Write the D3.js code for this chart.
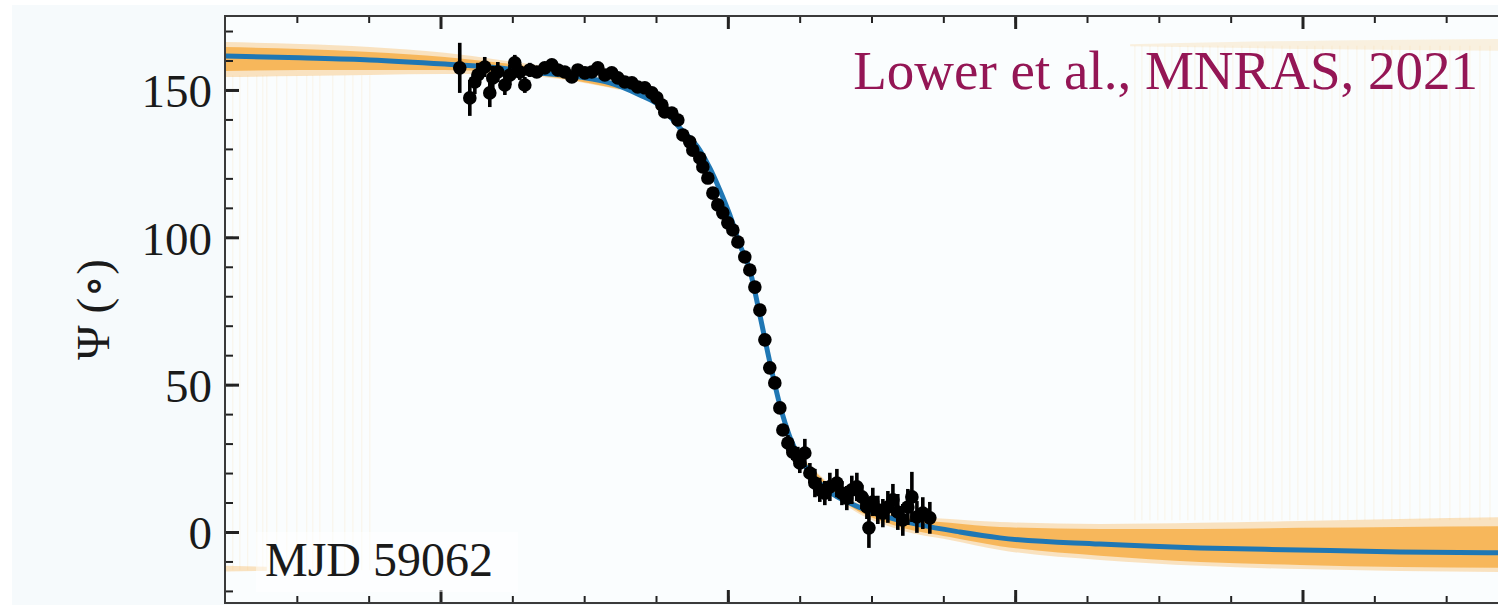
<!DOCTYPE html>
<html>
<head>
<meta charset="utf-8">
<script src="https://cdn.jsdelivr.net/npm/d3@7"></script>
<style>
  html, body { margin: 0; padding: 0; background: #ffffff; }
  svg { display: block; }
</style>
</head>
<body>
<div id="chart"></div>
<script>
// measured position angle (deg) vs pulse phase (deg)
const pointPhase = [-18.66, -17.96, -17.61, -17.40, -16.92, -16.57, -16.36, -16.01, -15.52, -15.17,
    -14.83, -14.48, -14.13, -13.78, -13.30, -12.74, -12.25, -11.83, -11.35, -10.86,
    -10.44, -9.95, -9.47, -9.05, -8.56, -8.08, -7.66, -7.17, -6.68, -6.27,
    -5.78, -5.29, -4.94, -4.59, -4.39, -3.90, -3.48, -3.13, -2.65, -2.44,
    -1.95, -1.74, -1.39, -1.04, -0.70, -0.35, 0.00, 0.35, 0.70, 1.18,
    1.53, 1.88, 2.23, 2.58, 2.92, 3.27, 3.62, 3.83, 4.18, 4.52,
    4.87, 5.01, 5.36, 5.71, 6.06, 6.40, 6.75, 7.10, 7.59, 7.94,
    8.28, 8.63, 8.98, 9.33, 9.68, 9.82, 10.09, 10.44, 10.79, 11.14,
    11.49, 11.83, 12.18, 12.53, 12.81, 13.16, 13.57, 14.06];
const pointPsi = [157.5, 147.3, 152.7, 155.1, 157.8, 149.0, 154.1, 156.1, 151.7, 155.1,
    159.2, 156.1, 151.7, 156.8, 156.1, 157.5, 158.5, 156.8, 156.1, 154.4,
    156.8, 155.8, 156.1, 157.5, 155.1, 155.8, 154.1, 152.7, 152.4, 151.0,
    150.7, 149.0, 147.3, 144.9, 142.5, 142.2, 139.8, 134.7, 132.4, 129.6,
    126.9, 123.9, 120.1, 115.0, 111.0, 108.3, 104.9, 102.5, 98.4, 93.3,
    88.9, 83.1, 75.3, 65.2, 55.7, 50.6, 42.1, 34.6, 30.2, 27.1,
    25.5, 23.4, 26.8, 20.0, 16.6, 14.3, 13.2, 15.3, 16.6, 13.2,
    11.5, 14.3, 15.3, 11.9, 8.5, 1.4, 10.2, 7.5, 6.4, 8.5,
    10.9, 6.8, 4.1, 8.5, 11.9, 5.1, 6.4, 4.8];
const pointErr = [8.5, 6.1, 4.1, 4.1, 3.4, 4.8, 4.1, 3.4, 3.4, 3.4,
    2.7, 2.7, 2.7, 2.4, 2.0, 1.7, 1.7, 1.4, 1.4, 1.4,
    1.4, 1.0, 1.0, 1.0, 1.0, 1.0, 1.0, 1.0, 1.0, 1.0,
    1.0, 1.0, 1.0, 1.0, 1.0, 1.0, 1.0, 1.0, 1.0, 1.0,
    1.0, 1.0, 1.0, 1.0, 1.0, 1.0, 1.0, 1.0, 1.0, 1.0,
    1.0, 1.0, 1.0, 1.0, 1.0, 1.0, 1.0, 1.0, 2.7, 2.7,
    3.4, 3.4, 4.8, 3.4, 4.8, 4.1, 4.1, 4.8, 4.8, 4.1,
    4.1, 4.8, 4.8, 4.1, 4.1, 6.8, 4.8, 4.8, 4.8, 5.4,
    5.4, 6.1, 5.4, 6.1, 8.5, 5.4, 5.4, 5.4];

// best-fit RVM curve
const fitPhase = [-35.0, -29.79, -24.92, -19.70, -15.87, -13.78, -10.30, -8.21, -6.13, -4.73,
    -3.34, -1.95, -1.25, -0.56, 0.14, 0.84, 1.53, 2.23, 2.92, 3.62,
    4.32, 5.01, 6.06, 7.10, 8.49, 10.58, 13.37, 16.15, 18.94, 25.90,
    32.86, 39.82, 46.78, 55.0];
const fitPsi = [161.5, 160.9, 160.2, 158.8, 157.5, 156.1, 154.4, 152.4, 148.3, 144.6,
    137.1, 129.6, 123.5, 116.1, 107.6, 97.4, 88.9, 73.6, 57.7, 43.1,
    32.2, 25.1, 18.3, 13.6, 9.8, 5.8, 2.4, 0.0, -2.0, -4.1,
    -5.4, -6.1, -6.8, -7.1];

// posterior spread (null where it collapses onto the fit)
const bandPhase = [-35.0, -29.79, -24.92, -19.70, -15.87, -11.70, -7.52, -3.34, 0.84, 5.01,
    8.49, 11.97, 15.45, 18.94, 25.90, 32.86, 39.82, 46.78, 55.0];
const bandOuterHi = [166.3, 165.6, 164.6, 162.6, 160.2, 157.2, 152.7, null, null, 26.1,
    11.2, 6.1, 4.4, 3.4, 2.7, 3.1, 3.7, 4.4, 5.1];
const bandOuterLo = [154.4, 154.7, 155.1, 155.4, 155.4, 153.7, 150.0, null, null, 23.8,
    8.1, 0.7, -2.7, -6.1, -9.5, -11.5, -12.6, -13.2, -13.6];
const bandInnerHi = [164.6, 163.9, 162.9, 161.2, 159.2, 156.4, 152.0, null, null, 25.8,
    10.5, 5.1, 3.1, 1.7, 1.0, 1.0, 1.4, 1.7, 2.0];
const bandInnerLo = [156.4, 156.8, 156.8, 156.8, 156.1, 154.0, 150.3, null, null, 24.1,
    8.8, 1.7, -1.7, -4.8, -8.1, -10.2, -11.2, -11.9, -12.2];

// samples wrapped through 180 deg
const wrapTopPhase = [28.0, 35.0, 42.0, 49.0, 55.0];
const wrapTopHi = [165.5, 166.3, 166.8, 167.1, 167.3];
const wrapTopLo = [164.8, 164.3, 163.8, 163.5, 163.3];
const wrapBottomPhase = [-35.0, -32.1];
const wrapBottomHi = [-11.5, -11.8];
const wrapBottomLo = [-13.4, -13.2];

const jumpLeftPhase = [-34.46, -33.97, -33.42, -32.79, -32.37, -32.09, -31.40, -30.70, -30.00, -29.31,
    -28.89, -28.40, -27.50, -26.66, -26.10, -25.48, -24.92];
const jumpRightPhase = [28.33, 28.82, 29.38, 29.93, 30.42, 30.91, 31.47, 32.02, 32.51, 33.07,
    33.55, 34.11, 34.60, 35.15, 35.78, 36.34, 36.89, 37.38, 37.94, 38.57,
    39.12, 39.68, 40.31, 40.86, 41.42, 42.05, 42.60, 43.16, 43.79, 44.34,
    44.97, 45.60, 46.22, 46.78, 47.48, 48.17, 48.87, 49.57, 50.26, 50.96,
    51.65, 52.35, 53.05];

const yTickValues = [0, 50, 100, 150];
const yMinorValues = d3.range(-20, 171, 10);
const xMajorValues = [-20, 0, 20, 40];
const xMinorValues = d3.range(-30, 56, 5);

const yLabel = "\u03a8 (\u2218)";
const epochLabel = "MJD 59062";
const citeLabel = "Lower et al., MNRAS, 2021";

const width = 1498, height = 605;
const plot = { left: 225, top: 16, right: 1518, bottom: 603 };

const serif = "'Liberation Serif', 'DejaVu Serif', serif";
const orange = "#f7a531";

const svg = d3.select("#chart").append("svg")
    .attr("width", width)
    .attr("height", height);

svg.append("rect").attr("width", width).attr("height", height).attr("fill", "#f6fafc");
svg.append("rect").attr("width", 12).attr("height", height).attr("fill", "#ffffff");
svg.append("rect").attr("width", width).attr("height", 5).attr("fill", "#ffffff");

const x = d3.scaleLinear().domain([-35, 55]).range([plot.left, plot.right]);
const y = d3.scaleLinear().domain([-24.1, 175.1]).range([plot.bottom, plot.top]);

svg.append("clipPath").attr("id", "plot-clip")
    .append("rect")
    .attr("x", plot.left).attr("y", plot.top)
    .attr("width", plot.right - plot.left).attr("height", plot.bottom - plot.top);

svg.append("rect")
    .attr("x", plot.left).attr("y", plot.top)
    .attr("width", plot.right - plot.left).attr("height", plot.bottom - plot.top)
    .attr("fill", "#fafdfe");

const g = svg.append("g").attr("clip-path", "url(#plot-clip)");

// faint vertical jumps of the wrapped samples
g.append("g")
    .selectAll("line")
    .data(jumpLeftPhase)
    .join("line")
    .attr("x1", d => x(d)).attr("x2", d => x(d))
    .attr("y1", y(155)).attr("y2", y(-13))
    .attr("stroke", orange).attr("stroke-opacity", 0.09).attr("stroke-width", 1.2);

g.append("g")
    .selectAll("line")
    .data(jumpRightPhase)
    .join("line")
    .attr("x1", d => x(d)).attr("x2", d => x(d))
    .attr("y1", y(165)).attr("y2", y(4))
    .attr("stroke", orange).attr("stroke-opacity", 0.09).attr("stroke-width", 1.2);

const band = (hi, lo) => d3.area()
    .defined((d, i) => hi[i] !== null)
    .curve(d3.curveMonotoneX)
    .x(d => x(d))
    .y0((d, i) => y(lo[i]))
    .y1((d, i) => y(hi[i]));

g.append("path")
    .attr("d", band(bandOuterHi, bandOuterLo)(bandPhase))
    .attr("fill", orange).attr("fill-opacity", 0.3);

g.append("path")
    .attr("d", band(bandInnerHi, bandInnerLo)(bandPhase))
    .attr("fill", orange).attr("fill-opacity", 0.7);

g.append("path")
    .attr("d", band(wrapTopHi, wrapTopLo)(wrapTopPhase))
    .attr("fill", orange).attr("fill-opacity", 0.15);

g.append("path")
    .attr("d", band(wrapBottomHi, wrapBottomLo)(wrapBottomPhase))
    .attr("fill", orange).attr("fill-opacity", 0.3);

const fitLine = d3.line()
    .curve(d3.curveMonotoneX)
    .x((d, i) => x(fitPhase[i]))
    .y(d => y(d));

g.append("path")
    .attr("d", fitLine(fitPsi))
    .attr("fill", "none")
    .attr("stroke", "#1f77b4")
    .attr("stroke-width", 5);

// data with error bars
const points = pointPhase.map((p, i) => ({ phase: p, psi: pointPsi[i], err: pointErr[i] }));

g.append("g")
    .selectAll("line")
    .data(points)
    .join("line")
    .attr("x1", d => x(d.phase)).attr("x2", d => x(d.phase))
    .attr("y1", d => y(d.psi - d.err)).attr("y2", d => y(d.psi + d.err))
    .attr("stroke", "#000").attr("stroke-width", 3.6);

g.append("g")
    .selectAll("circle")
    .data(points)
    .join("circle")
    .attr("cx", d => x(d.phase))
    .attr("cy", d => y(d.psi))
    .attr("r", 6.8)
    .attr("fill", "#000");

// axes: ticks point inward, labels only on the left
const styleAxis = (sel, w) => {
    sel.select(".domain").remove();
    sel.selectAll(".tick line").attr("stroke", "#222").attr("stroke-width", w);
};

svg.append("g")
    .attr("transform", `translate(${plot.left},0)`)
    .call(d3.axisLeft(y).tickValues(yMinorValues).tickSize(-8).tickFormat(""))
    .call(sel => styleAxis(sel, 2));

svg.append("g")
    .attr("transform", `translate(${plot.left},0)`)
    .call(d3.axisLeft(y).tickValues(yTickValues).tickSize(-14).tickPadding(13).tickFormat(d3.format("d")))
    .call(sel => styleAxis(sel, 3))
    .call(sel => sel.selectAll(".tick text")
        .attr("font-family", serif)
        .attr("font-size", 47)
        .attr("fill", "#1a1a1a")
        .attr("dy", "0.36em"));

[[plot.top, d3.axisTop], [plot.bottom, d3.axisBottom]].forEach(([ty, axisFn]) => {
    svg.append("g")
        .attr("transform", `translate(0,${ty})`)
        .call(axisFn(x).tickValues(xMinorValues).tickSize(-7).tickFormat(""))
        .call(sel => styleAxis(sel, 2));
    svg.append("g")
        .attr("transform", `translate(0,${ty})`)
        .call(axisFn(x).tickValues(xMajorValues).tickSize(-13).tickFormat(""))
        .call(sel => styleAxis(sel, 3));
});

svg.append("rect")
    .attr("x", plot.left).attr("y", plot.top)
    .attr("width", plot.right - plot.left).attr("height", plot.bottom - plot.top)
    .attr("fill", "none")
    .attr("stroke", "#3a3a3a")
    .attr("stroke-width", 2);

svg.append("text")
    .attr("transform", `translate(93,${(plot.top + plot.bottom) / 2}) rotate(-90)`)
    .attr("text-anchor", "middle")
    .attr("dy", "0.35em")
    .attr("font-family", serif)
    .attr("font-size", 47)
    .attr("fill", "#1a1a1a")
    .text(yLabel);

// epoch label with its white box
svg.append("rect")
    .attr("x", 256).attr("y", 532)
    .attr("width", 262).attr("height", 60)
    .attr("fill", "#ffffff").attr("fill-opacity", 0.5);

svg.append("text")
    .attr("x", 265).attr("y", 576)
    .attr("font-family", serif)
    .attr("font-size", 48)
    .attr("fill", "#1a1a1a")
    .text(epochLabel);

svg.append("text")
    .attr("x", 1478).attr("y", 89)
    .attr("text-anchor", "end")
    .attr("font-family", serif)
    .attr("font-size", 55)
    .attr("fill", "#941655")
    .text(citeLabel);
</script>
</body>
</html>
